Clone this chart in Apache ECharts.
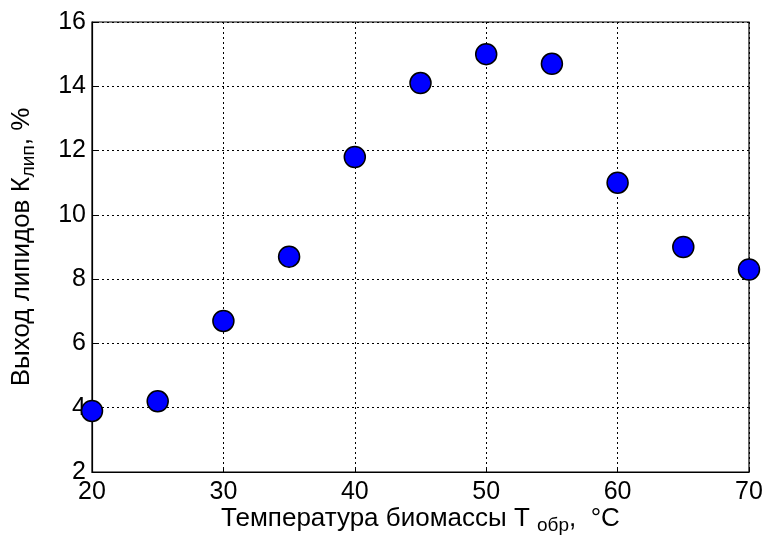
<!DOCTYPE html>
<html>
<head>
<meta charset="utf-8">
<script src="https://cdn.jsdelivr.net/npm/echarts@6/dist/echarts.min.js"></script>
<style>
  html, body { margin: 0; padding: 0; background: #fff; }
  #chart { width: 763px; height: 540px; }
</style>
</head>
<body>
<div id="chart"></div>
<script>
// Biomass treatment temperature, °C
const temperature = [20, 25, 30, 35, 40, 45, 50, 55, 60, 65, 70];
// Lipid yield, %
const lipidYield = [3.9, 4.2, 6.7, 8.7, 11.8, 14.1, 15.0, 14.7, 11.0, 9.0, 8.3];

const xTicks = [20, 30, 40, 50, 60, 70];
const yTicks = [2, 4, 6, 8, 10, 12, 14, 16];

const points = temperature.map((t, i) => [t, lipidYield[i]]);

const font = 'Liberation Sans, Arial, sans-serif';

const chart = echarts.init(document.getElementById('chart'), null, { renderer: 'canvas' });

const dotted = { show: true, lineStyle: { color: '#000', type: [2, 3], width: 1 } };

const titleRich = {
  n: { fontFamily: font, fontSize: 26, color: '#000', lineHeight: 30 },
  s: { fontFamily: font, fontSize: 19, color: '#000', padding: [14, 0, 0, 0], lineHeight: 30 }
};

chart.setOption({
  animation: false,
  backgroundColor: '#fff',
  grid: {
    left: 92, right: 14, top: 22, bottom: 68,
    containLabel: false,
    outerBoundsMode: 'none',
    show: true, borderColor: '#000', borderWidth: 1.2, backgroundColor: 'transparent'
  },
  xAxis: {
    type: 'value',
    min: xTicks[0], max: xTicks[xTicks.length - 1], interval: 10,
    axisLine: { show: true, lineStyle: { color: '#000', width: 1.2 } },
    axisTick: { show: true, inside: true, length: 5, lineStyle: { color: '#000' } },
    splitLine: dotted,
    axisLabel: { color: '#000', fontFamily: font, fontSize: 25, margin: 8 },
    name: '{n|Температура биомассы Т }{s|обр}{n|,  °C}',
    nameLocation: 'middle',
    nameGap: 32,
    nameMoveOverlap: false,
    nameTextStyle: { rich: titleRich }
  },
  yAxis: {
    type: 'value',
    min: yTicks[0], max: yTicks[yTicks.length - 1], interval: 2,
    axisLine: { show: true, lineStyle: { color: '#000', width: 1.2 } },
    axisTick: { show: true, inside: true, length: 5, lineStyle: { color: '#000' } },
    splitLine: dotted,
    axisLabel: { color: '#000', fontFamily: font, fontSize: 25, margin: 6 },
    name: '{n|Выход липидов К}{s|лип}{n|, %}',
    nameLocation: 'middle',
    nameGap: 55,
    nameRotate: 90,
    nameMoveOverlap: false,
    nameTextStyle: { rich: titleRich }
  },
  series: [{
    type: 'scatter',
    data: points,
    symbol: 'circle',
    symbolSize: 21,
    clip: false,
    itemStyle: { color: '#0000ff', borderColor: '#000', borderWidth: 1.5, opacity: 1 }
  }]
});
</script>
</body>
</html>
